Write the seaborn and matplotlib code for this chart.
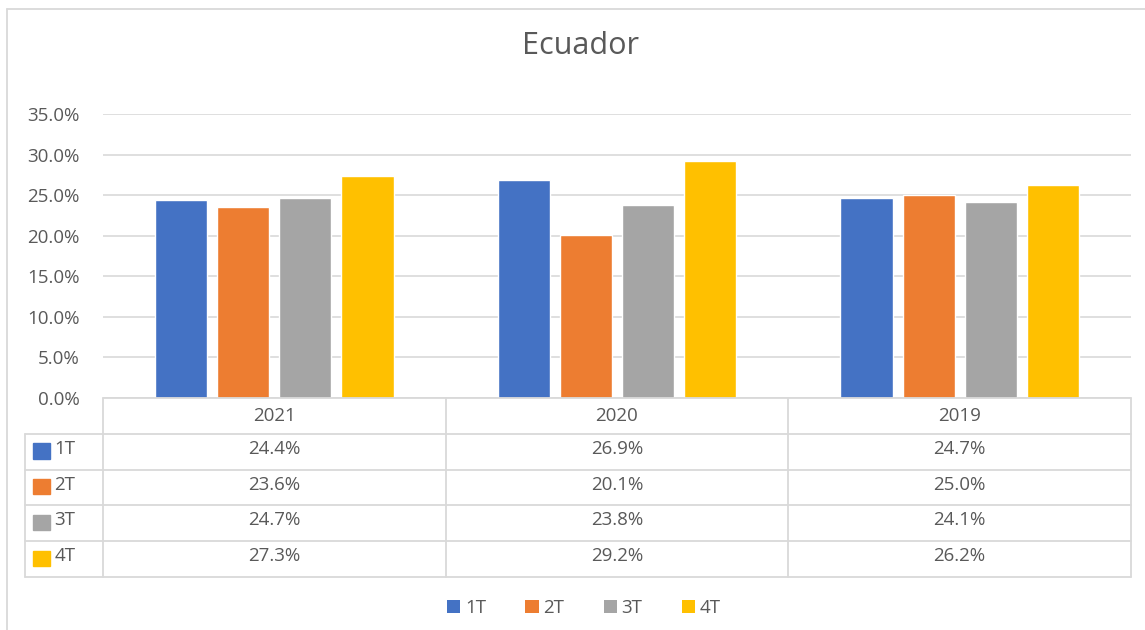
import numpy as np
import pandas as pd
import seaborn as sns
import matplotlib.pyplot as plt
from matplotlib.lines import Line2D
from matplotlib.patches import Patch, Rectangle

# Datos (porcentajes por trimestre)
years = ['2021', '2020', '2019']
quarters = ['1T', '2T', '3T', '4T']
q1 = [24.4, 26.9, 24.7]
q2 = [23.6, 20.1, 25.0]
q3 = [24.7, 23.8, 24.1]
q4 = [27.3, 29.2, 26.2]
colors = ['#4472C4', '#ED7D31', '#A5A5A5', '#FFC000']

series = [q1, q2, q3, q4]
df = pd.DataFrame({
    'year': years * 4,
    'quarter': [q for q in quarters for _ in years],
    'value': [v / 100 for s in series for v in s],
})

sns.set_style('white')
plt.rcParams['font.family'] = ['Open Sans', 'DejaVu Sans']
txt = '#595959'
grid = '#D9D9D9'
fs = 13.5

W, H = 1145, 630
fig = plt.figure(figsize=(W / 100, H / 100), dpi=100)

def fx(px):
    return px / W

def fy(py):
    return 1 - py / H

# área del gráfico
ax = fig.add_axes([fx(103), fy(398), fx(1131) - fx(103), fy(114) - fy(398)])
sns.barplot(data=df, x='year', y='value', hue='quarter', order=years,
            hue_order=quarters, palette=colors, saturation=1,
            width=0.725, gap=0.16, legend=False, ax=ax)
ax.set_xlim(-0.5, 2.5)
ax.set_ylim(0, 0.35)
ax.set_yticks(np.arange(0, 0.351, 0.05))
ax.set_yticklabels([f'{t * 100:.1f}%' for t in ax.get_yticks()], color=txt, fontsize=fs)
ax.tick_params(axis='y', length=0, pad=17)
ax.set_xticks([])
ax.set_xlabel('')
ax.set_ylabel('')
for sp in ax.spines.values():
    sp.set_visible(False)
ax.yaxis.grid(True, color=grid, lw=1.2)
ax.set_axisbelow(True)

fig.text(0.507, fy(46), 'Ecuador', ha='center', va='center', fontsize=22, color=txt)

# tabla de datos
tab = fig.add_axes([fx(25), fy(577), fx(1131) - fx(25), fy(398) - fy(577)])
unit = (1131 - 103) / 3
x_left = -0.5 - (103 - 25) / unit
tab.set_xlim(x_left, 2.5)
tab.set_ylim(5, 0)
tab.axis('off')
lk = dict(color=grid, lw=1.3, clip_on=False)
tab.plot([-0.5, 2.5], [0, 0], **lk)
for r in range(1, 6):
    tab.plot([x_left, 2.5], [r, r], **lk)
tab.plot([x_left, x_left], [1, 5], **lk)
for c in [-0.5, 0.5, 1.5, 2.5]:
    tab.plot([c, c], [0, 5], **lk)
for i, y in enumerate(years):
    tab.text(i, 0.5, y, ha='center', va='center', color=txt, fontsize=fs)
for r, (q, s, col) in enumerate(zip(quarters, series, colors), start=1):
    tab.add_patch(Rectangle((x_left + 0.022, r + 0.27), 0.05, 0.42, color=col, clip_on=False))
    tab.text(x_left + 0.085, r + 0.42, q, ha='left', va='center', color=txt, fontsize=fs)
    for i, v in enumerate(s):
        tab.text(i, r + 0.42, f'{v:.1f}%', ha='center', va='center', color=txt, fontsize=fs)

# leyenda
handles = [Patch(facecolor=c, edgecolor='none', label=q) for q, c in zip(quarters, colors)]
fig.legend(handles=handles, loc='center', bbox_to_anchor=(0.51, fy(608)), ncol=4,
           frameon=False, fontsize=fs, labelcolor=txt, handlelength=0.7,
           handleheight=0.7, handletextpad=0.25, columnspacing=2.1)

# borde exterior
fig.add_artist(Line2D([fx(7), 1], [fy(9), fy(9)], color=grid, lw=1.3, transform=fig.transFigure))
fig.add_artist(Line2D([fx(7), fx(7)], [fy(9), 0], color=grid, lw=1.3, transform=fig.transFigure))

fig.savefig('out.png', dpi=100)
